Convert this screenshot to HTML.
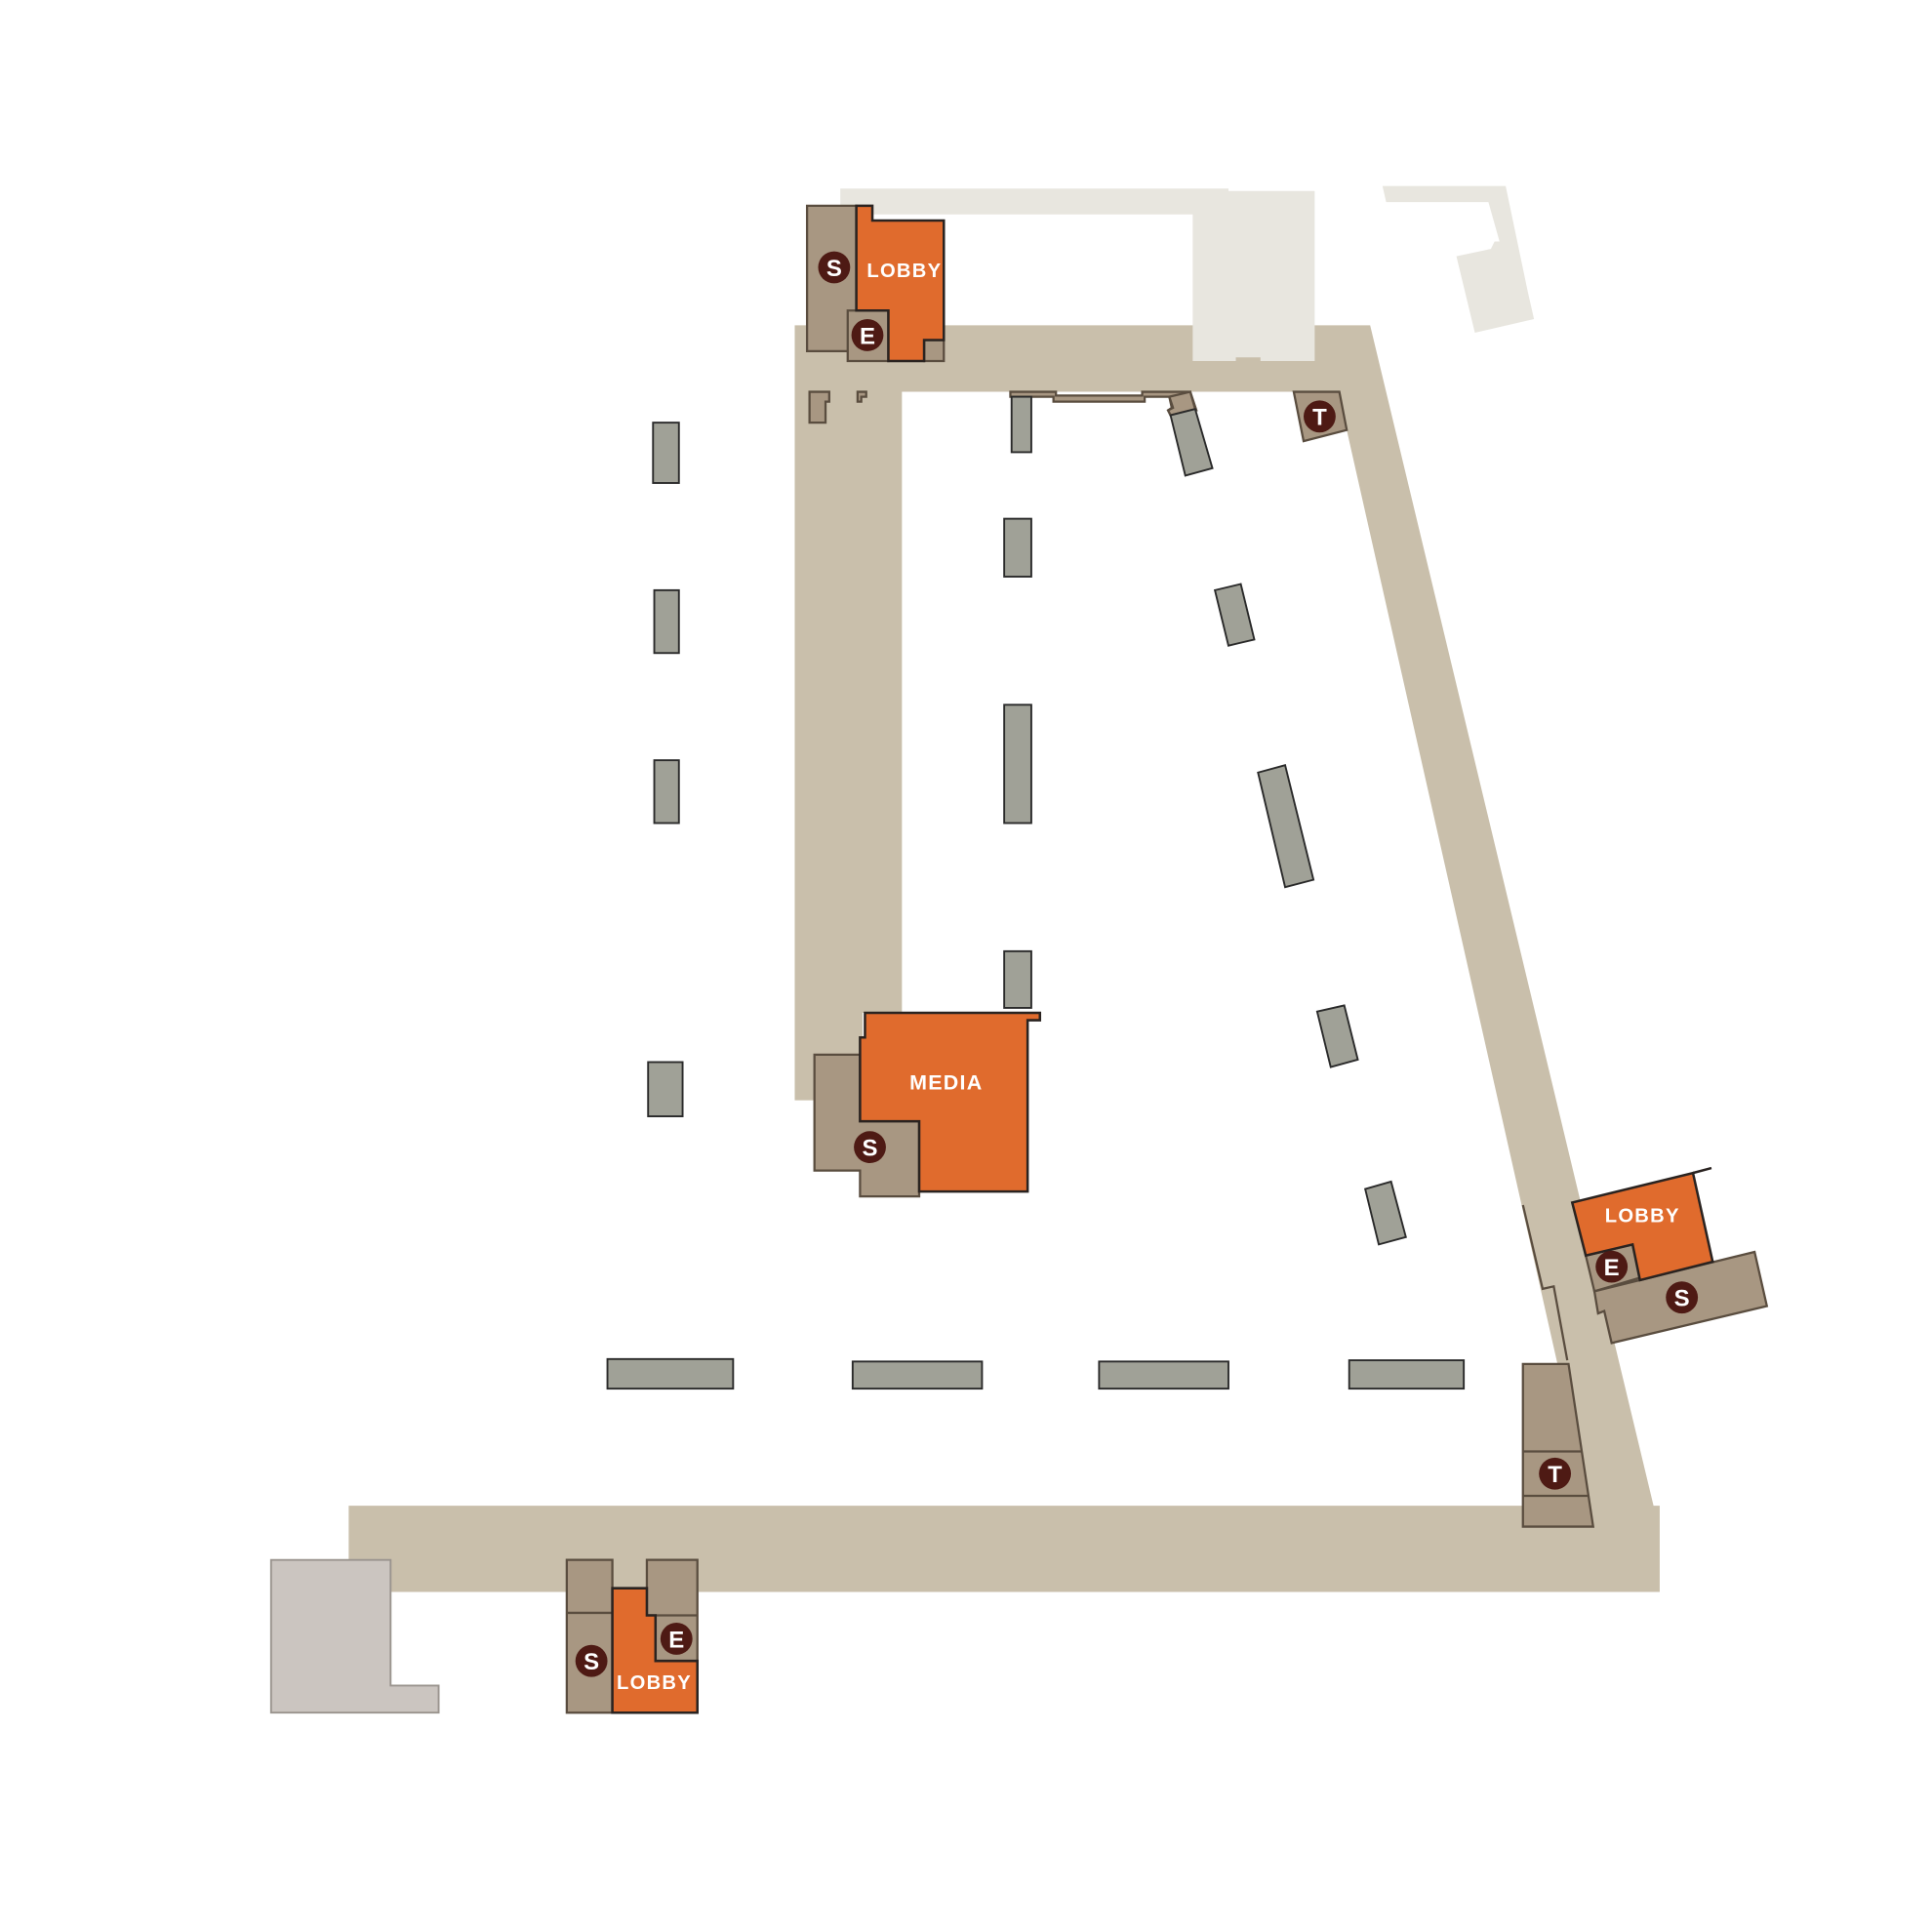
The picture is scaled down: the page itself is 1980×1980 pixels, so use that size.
<!DOCTYPE html>
<html><head><meta charset="utf-8"><style>
html,body{margin:0;padding:0;background:#fff;}
svg{display:block;}
text{font-family:"Liberation Sans",sans-serif;font-weight:bold;fill:#fff;}
</style></head><body>
<svg width="1980" height="1980" viewBox="0 0 1568 1568" xmlns="http://www.w3.org/2000/svg">
<!-- corridor -->
<polygon points="645,264 1112,264 1342,1222 1347,1222 1347,1292 283,1292 283,1222 1290,1222 1086,318 732,318 732,822 700,822 700,893 645,893" fill="#c9bfab"/>
<!-- light gray buildings -->
<polygon points="682,153 997,153 997,155 1067,155 1067,293 1023,293 1023,290 1003,290 1003,293 968,293 968,174 682,174" fill="#e8e6df"/>
<polygon points="1122,151 1222,151 1240,237 1245,259 1197,270 1182,208 1210,202 1213,196 1217,196 1208,164 1125,164" fill="#e8e6df"/>
<!-- bottom-left gray -->
<polygon points="220,1266 317,1266 317,1368 356,1368 356,1390 220,1390" fill="#cbc5c0" stroke="#9a948e" stroke-width="1.5"/>
<g stroke="#5a4d3f" stroke-width="1.8" fill="#a89782">
<polygon points="655,167 695,167 695,285 655,285"/>
<polygon points="688,252 721,252 721,293 688,293"/>
<polygon points="750,276 766,276 766,293 750,293"/>
<polygon points="657,318 673,318 673,326 670,326 670,343 657,343"/>
<polygon points="696,318 703,318 703,322 699,322 699,326 696,326"/>
<polygon points="820,318 857,318 857,321 927,321 927,318 966,318 971,333 950,337 948,333 951,331 949,322 929,322 929,326 855,326 855,322 820,322"/>
<polygon points="950,337 970,332 966,318 949,322 952,331 948,333"/>
<polygon points="1050,318 1087,318 1093,349 1058,358"/>
<polygon points="661,856 698,856 698,910 746,910 746,971 698,971 698,950 661,950"/>
<polygon points="1287,1019 1325,1010 1331,1037 1294,1048"/>
<polygon points="1294,1048 1424,1016 1434,1060 1308,1090 1302,1064 1297,1066"/>
<polyline points="1236,978 1252,1046 1261,1044 1272,1104" fill="none"/>
<polygon points="1236,1107 1273,1107 1293,1239 1236,1239"/>
<line x1="1236" y1="1178" x2="1284" y2="1178"/>
<line x1="1236" y1="1214" x2="1289" y2="1214"/>
<polygon points="460,1266 497,1266 497,1390 460,1390"/>
<line x1="460" y1="1309" x2="497" y2="1309"/>
<polygon points="525,1266 566,1266 566,1348 532,1348 532,1311 525,1311"/>
<line x1="532" y1="1311" x2="566" y2="1311"/>
</g>
<g fill="#e06b2d" stroke="#2a2320" stroke-width="2">
<polygon points="695,167 708,167 708,179 766,179 766,276 750,276 750,293 721,293 721,252 695,252"/>
<polygon points="702,822 844,822 844,828 834,828 834,967 746,967 746,910 698,910 698,842 702,842"/>
<polygon points="1276,976 1374,952 1390,1024 1331,1039 1325,1010 1287,1019"/>
<polygon points="497,1289 525,1289 525,1311 532,1311 532,1348 566,1348 566,1390 497,1390"/>
</g>
<line x1="1374" y1="952" x2="1389" y2="948" stroke="#2a2320" stroke-width="2"/>
<g fill="#a0a197" stroke="#2a2a2a" stroke-width="1.5">
<rect x="530" y="343" width="21" height="49"/>
<rect x="531" y="479" width="20" height="51"/>
<rect x="531" y="617" width="20" height="51"/>
<rect x="526" y="862" width="28" height="44"/>
<rect x="821" y="322" width="16" height="45"/>
<rect x="815" y="421" width="22" height="47"/>
<rect x="815" y="572" width="22" height="96"/>
<rect x="815" y="772" width="22" height="46"/>
<rect x="493" y="1103" width="102" height="24"/>
<rect x="692" y="1105" width="105" height="22"/>
<rect x="892" y="1105" width="105" height="22"/>
<rect x="1095" y="1104" width="93" height="23"/>
<polygon points="950,337 970,332 984,380 962,386"/>
<polygon points="986,479 1007,474 1018,519 997,524"/>
<polygon points="1021,627 1043,621 1066,714 1043,720"/>
<polygon points="1069,821 1091,816 1102,860 1080,866"/>
<polygon points="1108,965 1129,959 1141,1004 1119,1010"/>
</g>
<g fill="#4e1a14">
<circle cx="677" cy="217" r="13"/><circle cx="704" cy="272" r="13"/>
<circle cx="1071" cy="338" r="13"/><circle cx="706" cy="931" r="13"/>
<circle cx="1308" cy="1028" r="13"/><circle cx="1365" cy="1053" r="13"/>
<circle cx="1262" cy="1196" r="13"/>
<circle cx="480" cy="1348" r="13"/><circle cx="549" cy="1330" r="13"/>
</g>
<g font-size="19" text-anchor="middle">
<text x="677" y="224">S</text><text x="704" y="279">E</text>
<text x="1071" y="345">T</text><text x="706" y="938">S</text>
<text x="1308" y="1035">E</text><text x="1365" y="1060">S</text>
<text x="1262" y="1203">T</text>
<text x="480" y="1355">S</text><text x="549" y="1337">E</text>
</g>
<g font-size="16" text-anchor="middle" letter-spacing="1">
<text x="734" y="225">LOBBY</text>
<text x="768" y="884" font-size="17">MEDIA</text>
<text x="1333" y="992">LOBBY</text>
<text x="531" y="1371">LOBBY</text>
</g>
</svg>
</body></html>
